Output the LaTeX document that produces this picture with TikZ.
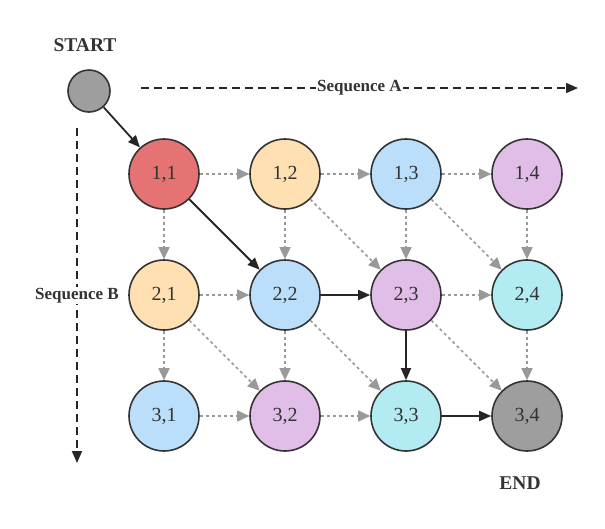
\documentclass[tikz,border=0pt]{standalone}
\usepackage{fontspec}
\setmainfont{Liberation Serif}
\usetikzlibrary{arrows.meta,positioning}
\definecolor{ink}{HTML}{333333}
\definecolor{dotgrey}{HTML}{999999}
\definecolor{diag2}{HTML}{E57373}
\definecolor{diag3}{HTML}{FFE0B2}
\definecolor{diag4}{HTML}{BBDEFB}
\definecolor{diag5}{HTML}{E1BEE7}
\definecolor{diag6}{HTML}{B2EBF2}
\definecolor{diag7}{HTML}{9E9E9E}

\begin{document}
\begin{tikzpicture}[x=1pt,y=-1pt,
    cell/.style={circle,draw=ink,line width=1.6pt,minimum size=70pt,inner sep=0pt,
        text=ink,font=\fontsize{20}{24}\selectfont},
    weak/.style={draw=dotgrey,line width=1.6pt,dash pattern=on 3pt off 3pt,
        -{Triangle[length=12pt,width=11pt,fill=dotgrey]}},
    strong/.style={draw=black!85,line width=1.8pt,-{Triangle[length=12pt,width=10pt]}},
    seq/.style={draw=black!85,line width=1.8pt,dash pattern=on 8pt off 5pt,
        -{Triangle[length=12pt,width=10pt]}},
    tag/.style={text=ink,font=\bfseries\fontsize{17}{20}\selectfont},
    bigtag/.style={text=ink,font=\bfseries\fontsize{19.5}{23}\selectfont}]
    \useasboundingbox (0,0) rectangle (605,528);

    % Start point and end label
    \node[bigtag] (start label) at (85,45) {START};
    \node[circle,draw=ink,line width=1.6pt,fill=diag7,minimum size=42pt,inner sep=0pt] (start) at (89,91) {};
    \node[bigtag] (end label) at (520,483) {END};

    % Grid of states, coloured by anti-diagonal r+c
    \foreach \r in {1,2,3} {
        \foreach \c in {1,...,4} {
            \pgfmathtruncatemacro{\k}{\r+\c}
            \node[cell,fill=diag\k] (n\r\c) at ({164+121*(\c-1)},{174+121*(\r-1)}) {\r,\c};
        }
    }

    % Sequence axes
    \coordinate (a start) at (141,88);
    \coordinate (a end) at (578,88);
    \coordinate (b start) at (77,128);
    \coordinate (b end) at (77,463);
    \draw[seq] (a start) -- (a end) node[midway,fill=white,inner sep=1pt,tag] {Sequence A};
    \draw[seq] (b start) -- (b end) node[midway,fill=white,inner sep=1pt,tag] {Sequence B};

    % Dotted moves: right and down
    \foreach \a/\b in {11/12,12/13,13/14,21/22,23/24,31/32,32/33} {
        \draw[weak] (n\a) -- (n\b);
    }
    \foreach \a/\b in {11/21,12/22,13/23,14/24,21/31,22/32,24/34} {
        \draw[weak] (n\a) -- (n\b);
    }
    % Dotted moves: diagonal
    \foreach \a/\b in {12/23,13/24,21/32,22/33,23/34} {
        \draw[weak] (n\a) -- (n\b);
    }

    % Chosen path
    \draw[strong] (start) -- (n11);
    \draw[strong] (n11) -- (n22);
    \draw[strong] (n22) -- (n23);
    \draw[strong] (n23) -- (n33);
    \draw[strong] (n33) -- (n34);
\end{tikzpicture}
\end{document}
